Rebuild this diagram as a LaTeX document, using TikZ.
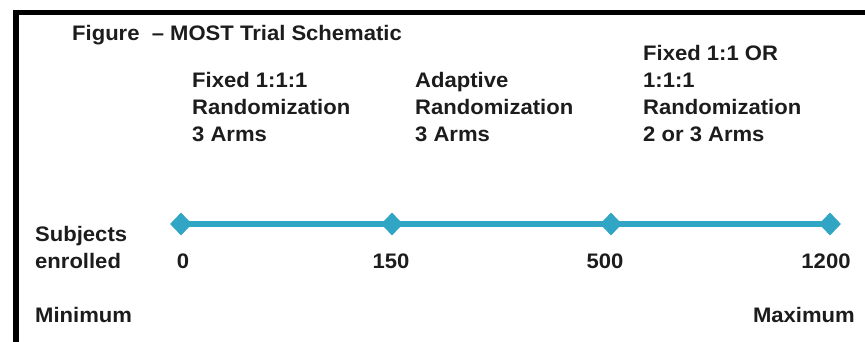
\documentclass[tikz,border=0pt]{standalone}
\usepackage{fontspec}
\setmainfont{Liberation Sans}[FakeStretch=1.05]
\usetikzlibrary{shapes.geometric}
\definecolor{lineteal}{RGB}{49,165,196}
\definecolor{inkgray}{RGB}{28,28,28}
\tikzset{
  lbl/.style={anchor=base west, align=left, inner sep=0pt, text=inkgray,
    font=\fontsize{21}{27}\selectfont\bfseries},
  numlab/.style={anchor=base, inner sep=0pt, text=inkgray,
    font=\fontsize{21}{27}\selectfont\bfseries},
  mark diamond/.style={diamond, fill=lineteal, inner sep=0pt,
    minimum width=22pt, minimum height=23pt},
}
\begin{document}
\begin{tikzpicture}[x=1pt, y=-1pt]
        \useasboundingbox (0,0) rectangle (865,341);
        % frame
        \draw[line width=5.5pt, line join=miter] (16,345) -- (16,12.3) -- (875,12.3);

        % title and phases (base = last line)
        \node[lbl] (title) at (72,40) {Figure \ – MOST Trial Schematic};
        \node[lbl] (fixed) at (192,141) {Fixed 1:1:1\\Randomization\\3 Arms};
        \node[lbl] (adapt) at (415,141) {Adaptive\\Randomization\\3 Arms};
        \node[lbl] (final) at (643,141) {Fixed 1:1 OR\\1:1:1\\Randomization\\2 or 3 Arms};

        % timeline
        \node[mark diamond] (d0) at (181,224) {};
        \node[mark diamond] (d150) at (392,224) {};
        \node[mark diamond] (d500) at (611,224) {};
        \node[mark diamond] (d1200) at (830,224) {};
        \draw[lineteal, line width=6.5pt] (d0.center) -- (d150.center) -- (d500.center) -- (d1200.center);

        % counts
        \node[numlab] (n0) at (183,268) {0};
        \node[numlab] (n150) at (391,268) {150};
        \node[numlab] (n500) at (605,268) {500};
        \node[numlab] (n1200) at (826,268) {1200};

        \node[lbl] (subj) at (35,268) {Subjects\\enrolled};
        \node[lbl] (min) at (35,322) {Minimum};
        \node[lbl, anchor=base east] (max) at (855,322) {Maximum};
    \end{tikzpicture}
\end{document}
